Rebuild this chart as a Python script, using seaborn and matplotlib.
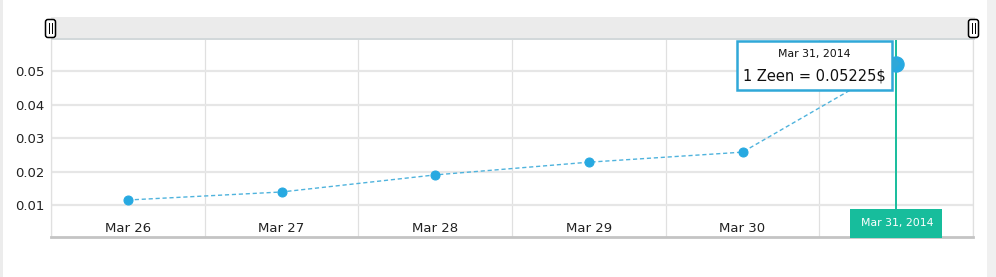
import matplotlib
matplotlib.use("Agg")
import matplotlib.pyplot as plt
import seaborn as sns
import pandas as pd
from matplotlib.patches import Rectangle, FancyBboxPatch, Polygon
from matplotlib.transforms import IdentityTransform

# ---- data ----
dates = ["Mar 26", "Mar 27", "Mar 28", "Mar 29", "Mar 30", "Mar 31"]
values = [0.0115, 0.0139, 0.0190, 0.0228, 0.0258, 0.05225]
y_ticks = [0.01, 0.02, 0.03, 0.04, 0.05]
y_tick_labels = ["0.01", "0.02", "0.03", "0.04", "0.05"]
tooltip_date = "Mar 31, 2014"
tooltip_text = "1 Zeen = 0.05225$"

df = pd.DataFrame({"idx": list(range(len(dates))), "date": dates, "value": values})

sns.set_theme(style="white")
plt.rcParams["font.family"] = ["DejaVu Sans"]

W, H = 996, 277
fig = plt.figure(figsize=(W / 100, H / 100), dpi=100)
fig.patch.set_facecolor("white")

L, R, T, B = 51, 973, 39, 237
ax = fig.add_axes([L / W, 1 - B / H, (R - L) / W, (B - T) / H])
ax.set_facecolor("white")

blue = "#27a9e1"
teal = "#17bd9c"

sns.lineplot(data=df, x="idx", y="value", ax=ax, color="#4fb3dd", linewidth=1.0,
             linestyle=(0, (3, 2)), marker="o", markersize=6.5, markerfacecolor=blue,
             markeredgecolor=blue, zorder=3)
last = df.iloc[[-1]]
sns.scatterplot(data=last, x="idx", y="value", ax=ax, s=120, color=blue,
                edgecolor=blue, zorder=5, legend=False)

ax.set_xlim(-0.5, len(dates) - 0.5)
ax.set_ylim(0.00045, 0.0596)

ax.set_yticks(y_ticks)
ax.set_yticklabels(y_tick_labels)
ax.set_xticks(df["idx"])
ax.set_xticklabels(dates)
ax.set_xticks([i - 0.5 for i in range(len(dates) + 1)], minor=True)
ax.tick_params(axis="x", which="both", length=0, pad=-11, labelsize=9.5, colors="#222222")
ax.tick_params(axis="y", length=0, pad=5, labelsize=9.5, colors="#222222")
# the last date label is hidden beneath the crosshair date box
ax.get_xticklabels()[-1].set_visible(False)
ax.set_xlabel("")
ax.set_ylabel("")

ax.grid(False)
ax.yaxis.grid(True, color="#e6e6e6", linewidth=1.6)
ax.xaxis.grid(True, which="minor", color="#e0e0e0", linewidth=0.9)
for sp in ["left", "right"]:
    ax.spines[sp].set_color("#e0e0e0")
    ax.spines[sp].set_linewidth(0.9)
ax.spines["top"].set_visible(False)
ax.spines["bottom"].set_color("#c4c4c4")
ax.spines["bottom"].set_linewidth(2)

# crosshair vertical line
box_top_px = 209
ax.axvline(df["idx"].iloc[-1], ymin=(B - box_top_px) / (B - T), ymax=1,
           color=teal, linewidth=1.4, zorder=4)

fig.canvas.draw()
px, py = ax.transData.transform((df["idx"].iloc[-1], df["value"].iloc[-1]))
ident = IdentityTransform()

def Y(y):
    return H - y

# side strips
fig.add_artist(Rectangle((0, 0), 3, H, transform=ident, facecolor="#ececec", edgecolor="none"))
fig.add_artist(Rectangle((987, 0), 9, H, transform=ident, facecolor="#f0f0f0", edgecolor="none"))

# scrollbar band
fig.add_artist(Rectangle((L, Y(39)), R - L + 2, 22, transform=ident,
                         facecolor="#ebebeb", edgecolor="none", zorder=2))
fig.add_artist(Rectangle((L, Y(39.5)), R - L + 2, 1.2, transform=ident,
                         facecolor="#d2d8da", edgecolor="none", zorder=2))
for hx in (45.5, 968.5):
    fig.add_artist(FancyBboxPatch((hx, Y(37.5)), 10, 18, transform=ident,
                                  boxstyle="round,pad=0,rounding_size=2.5",
                                  facecolor="white", edgecolor="black", linewidth=1.1, zorder=3))
    for lx in (hx + 3.8, hx + 6.2):
        fig.add_artist(Rectangle((lx, Y(34)), 0.9, 11, transform=ident,
                                 facecolor="black", edgecolor="none", zorder=4))

# tooltip
tx0, tx1 = px - 159, px - 4
ty_top, ty_bot = py + 23, py - 26
fig.add_artist(Rectangle((tx0, ty_bot), tx1 - tx0, ty_top - ty_bot, transform=ident,
                         facecolor="white", edgecolor="#30a8d8", linewidth=1.8, zorder=6))
fig.add_artist(Polygon([(tx1 + 1, py + 7), (tx1 + 8, py), (tx1 + 1, py - 7)], closed=True,
                       transform=ident, facecolor="#30a8d8", edgecolor="none", zorder=6))
cx = (tx0 + tx1) / 2
fig.text(cx, py + 10, tooltip_date, transform=ident, ha="center", va="center",
         fontsize=7.8, color="#111111", zorder=7)
fig.text(cx, py - 12, tooltip_text, transform=ident, ha="center", va="center",
         fontsize=10.5, color="#111111", zorder=7)

# teal date box at the bottom
bw = 92
fig.add_artist(Rectangle((px - bw / 2, Y(238)), bw, 29, transform=ident,
                         facecolor=teal, edgecolor="none", zorder=6))
fig.text(px + 1, Y(223), tooltip_date, transform=ident, ha="center", va="center",
         fontsize=7.8, color="white", zorder=7)

fig.savefig("out.png", dpi=100, facecolor="white")
